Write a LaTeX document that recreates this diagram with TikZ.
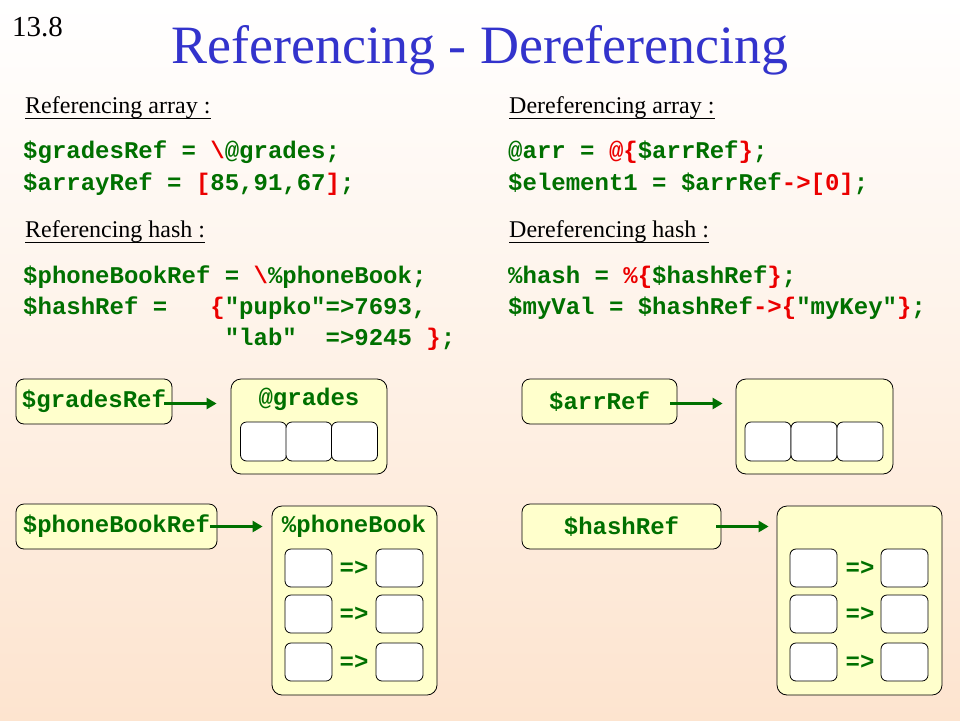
\documentclass[tikz,border=0pt]{standalone}
\usepackage{fontspec}
\setmainfont{Liberation Serif}
\setmonofont{Liberation Mono}
\usepackage{tikz}
\usetikzlibrary{arrows.meta}
\definecolor{codegreen}{RGB}{0,112,0}
\definecolor{codered}{RGB}{235,0,0}
\definecolor{boxyellow}{RGB}{255,255,204}
\definecolor{peach}{RGB}{253,228,207}
\definecolor{titleblue}{RGB}{51,51,204}
\newcommand{\rd}[1]{\textcolor{codered}{#1}}
\newcommand{\codefont}{\fontsize{24}{28}\selectfont\ttfamily\bfseries}

\begin{document}
\begin{tikzpicture}[x=1pt,y=-1pt,
    code/.style={anchor=base west, inner sep=0pt, text=codegreen, font=\codefont},
    heading/.style={anchor=base west, inner sep=0pt, font=\fontsize{24}{28}\selectfont},
    refbox/.style={draw=black, line width=0.8pt, fill=boxyellow, rounded corners=8pt, minimum height=45, inner sep=2pt, text=codegreen, font=\codefont},
    holder/.style={draw=black, line width=0.8pt, fill=boxyellow, rounded corners=10pt, inner sep=0pt},
    cell/.style={draw=black, line width=0.8pt, fill=white, rounded corners=6pt, minimum width=46, minimum height=39, inner sep=0pt},
    pair/.style={inner sep=0pt, text=codegreen, font=\codefont},
    refarrow/.style={draw=codegreen, line width=2.4pt, -{Triangle[length=10pt,width=11pt]}}]
    \useasboundingbox (0,0) rectangle (960,720);
    \shade[top color=white, bottom color=peach] (0,0) rectangle (960,720);

    % title
    \node[anchor=base west, inner sep=0pt, font=\fontsize{29}{32}\selectfont] (slideNum) at (12,36) {13.8};
    \node[anchor=base, inner sep=0pt, text=titleblue, font=\fontsize{54}{60}\selectfont] (title) at (480,63) {Referencing - Dereferencing};

    % referencing side
    \node[heading] (refArr) at (25,113) {Referencing array :};
    \draw[line width=1pt] ([yshift=-5pt]refArr.base west) -- ([yshift=-5pt]refArr.base east);
    \node[code] (codeGradesRef) at (23,158) {\$gradesRef = \rd{\textbackslash}@grades;};
    \node[code] (codeArrayRef) at (23,190) {\$arrayRef = \rd{[}85,91,67\rd{]};};
    \node[heading] (refHash) at (25,237) {Referencing hash :};
    \draw[line width=1pt] ([yshift=-5pt]refHash.base west) -- ([yshift=-5pt]refHash.base east);
    \node[code] (codePhoneRef) at (23,283) {\$phoneBookRef = \rd{\textbackslash}\%phoneBook;};
    \node[code] (codeHashRef) at (23,314) {\$hashRef =\ \ \ \rd{\{}"pupko"=>7693,};
    \node[code] (codeHashLab) at (23,345) {\phantom{\$hashRef =\ \ \ \{}"lab"\ \ =>9245 \rd{\}};};

    % dereferencing side
    \node[heading] (derefArr) at (509,113) {Dereferencing array :};
    \draw[line width=1pt] ([yshift=-5pt]derefArr.base west) -- ([yshift=-5pt]derefArr.base east);
    \node[code] (codeArr) at (508,158) {@arr = \rd{@\{}\$arrRef\rd{\}};};
    \node[code] (codeElement) at (508,190) {\$element1 = \$arrRef\rd{->[0]};};
    \node[heading] (derefHash) at (509,237) {Dereferencing hash :};
    \draw[line width=1pt] ([yshift=-5pt]derefHash.base west) -- ([yshift=-5pt]derefHash.base east);
    \node[code] (codeHash) at (508,283) {\%hash = \rd{\%\{}\$hashRef\rd{\}};};
    \node[code] (codeMyVal) at (508,314) {\$myVal = \$hashRef\rd{->\{}"myKey"\rd{\}};};

    % array reference
    \node[refbox, minimum width=156] (gradesRef) at (94,401.5) {\$gradesRef};
    \node[holder, minimum width=156, minimum height=95] (grades) at (309,426.5) {};
    \node[pair, anchor=base] (gradesLabel) at (309,405) {@grades};
    \node[cell] (gradesA) at (263.5,441.5) {};
    \node[cell] (gradesB) at (309,441.5) {};
    \node[cell] (gradesC) at (354.5,441.5) {};
    \draw[refarrow, shorten <=-8pt, shorten >=14pt] ([yshift=-2pt]gradesRef.east) -- ([yshift=-2pt]gradesRef.east -| grades.west);

    % hash reference
    \node[refbox, minimum width=201] (phoneRef) at (116.5,526.5) {\$phoneBookRef};
    \node[holder, minimum width=165, minimum height=189] (phone) at (354.5,600.5) {};
    \node[pair, anchor=base] (phoneLabel) at (354,532) {\%phoneBook};
    \node[cell, minimum width=47, minimum height=38] (phoneKeyA) at (308.5,568) {};
    \node[cell, minimum width=47, minimum height=38] (phoneValA) at (399.5,568) {};
    \node[cell, minimum width=47, minimum height=38] (phoneKeyB) at (308.5,614) {};
    \node[cell, minimum width=47, minimum height=38] (phoneValB) at (399.5,614) {};
    \node[cell, minimum width=47, minimum height=38] (phoneKeyC) at (308.5,662) {};
    \node[cell, minimum width=47, minimum height=38] (phoneValC) at (399.5,662) {};
    \node[pair] (phoneToA) at (354,568) {=>};
    \node[pair] (phoneToB) at (354,614) {=>};
    \node[pair] (phoneToC) at (354,662) {=>};
    \draw[refarrow, shorten <=-7pt, shorten >=9pt] (phoneRef.east) -- (phoneRef.east -| phone.west);

    % array dereference
    \node[refbox, minimum width=155] (arrRef) at (599.5,401.5) {\$arrRef};
    \node[holder, minimum width=157, minimum height=95] (arr) at (814.5,426.5) {};
    \node[cell] (arrA) at (768,441.5) {};
    \node[cell] (arrB) at (814,441.5) {};
    \node[cell] (arrC) at (860,441.5) {};
    \draw[refarrow, shorten <=-7pt, shorten >=13pt] ([yshift=-2pt]arrRef.east) -- ([yshift=-2pt]arrRef.east -| arr.west);

    % hash dereference
    \node[refbox, minimum width=199] (hashRef) at (621.5,526.5) {\$hashRef};
    \node[holder, minimum width=165, minimum height=189] (hash) at (859.5,600.5) {};
    \node[cell, minimum width=47, minimum height=38] (hashKeyA) at (813.5,568) {};
    \node[cell, minimum width=47, minimum height=38] (hashValA) at (904.5,568) {};
    \node[cell, minimum width=47, minimum height=38] (hashKeyB) at (813.5,614) {};
    \node[cell, minimum width=47, minimum height=38] (hashValB) at (904.5,614) {};
    \node[cell, minimum width=47, minimum height=38] (hashKeyC) at (813.5,662) {};
    \node[cell, minimum width=47, minimum height=38] (hashValC) at (904.5,662) {};
    \node[pair] (hashToA) at (860,568) {=>};
    \node[pair] (hashToB) at (860,614) {=>};
    \node[pair] (hashToC) at (860,662) {=>};
    \draw[refarrow, shorten <=-5pt, shorten >=8pt] (hashRef.east) -- (hashRef.east -| hash.west);
\end{tikzpicture}
\end{document}
